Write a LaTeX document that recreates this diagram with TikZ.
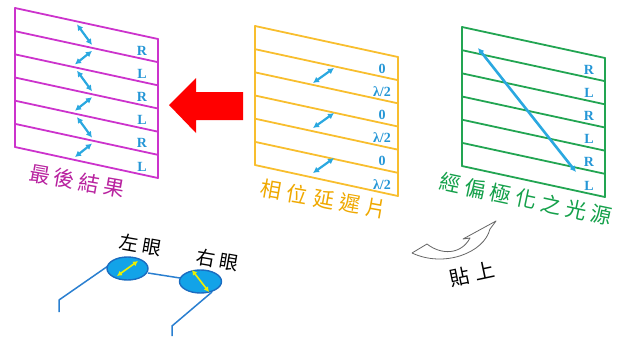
\documentclass[tikz,border=0pt]{standalone}
\usepackage{fontspec}
\newfontfamily\cjk{Noto Sans CJK TC}[LetterSpace=20]
\newfontfamily\labfont{Liberation Serif}
\usetikzlibrary{arrows.meta}

\definecolor{plum}{HTML}{CC33CC}
\definecolor{plumtext}{HTML}{B8229F}
\definecolor{amber}{HTML}{F8BE2E}
\definecolor{ambertext}{HTML}{EFA800}
\definecolor{leaf}{HTML}{22A552}
\definecolor{leaftext}{HTML}{14A04A}
\definecolor{skyb}{HTML}{2AA8E0}
\definecolor{labblue}{HTML}{2496D6}
\definecolor{lens}{HTML}{12A3E8}
\definecolor{lensrim}{HTML}{1B6CC0}
\definecolor{frame}{HTML}{2A7FD0}
\definecolor{yarrow}{HTML}{EEF000}

\tikzset{
  plate/.pic={
    \foreach \i in {0,...,6}
      \draw[pic actions] (0,{\i*23.17}) -- (143,{\i*23.17+31});
    \draw[pic actions] (0,0) -- (0,139) (143,31) -- (143,170);
  },
  platestroke/.style={line width=1.8pt, line cap=round},
  twohead/.style={draw=skyb, line width=2.2pt,
    {Latex[length=6pt,width=6.5pt]}-{Latex[length=6pt,width=6.5pt]}},
  yellowhead/.style={draw=yarrow, line width=1.6pt,
    {Latex[length=5pt,width=5.5pt]}-{Latex[length=5pt,width=5.5pt]}},
  lab/.style={text=labblue, font=\labfont\bfseries\fontsize{14}{14}\selectfont, inner sep=0pt},
  caption/.style={inner sep=0pt, font=\cjk\fontsize{21}{21}\selectfont},
  eyelabel/.style={inner sep=0pt, font=\cjk\fontsize{19}{19}\selectfont\addfontfeature{LetterSpace=22}, text=black},
  lensshape/.style={fill=lens, draw=lensrim, line width=1.4pt},
  temple/.style={draw=frame, line width=1.5pt, line join=round},
}

\begin{document}
\begin{tikzpicture}[x=1pt,y=-1pt]
\useasboundingbox (0,0) rectangle (619,338);

% --- resulting circular polarisation plate (magenta) ---
\pic[draw=plum, platestroke] at (15,8) {plate};
\foreach \t [count=\k from 0] in {R,L,R,L,R,L}
  \node[lab] (res\k) at (142,{50.6+23.17*\k}) {\t};
\foreach \k in {0,2,4} {
  \coordinate (za\k) at (77,{24.4+23.17*\k});
  \coordinate (zb\k) at (92,{44.9+23.17*\k});
  \draw[twohead] (za\k) -- (zb\k);
}
\foreach \k in {1,3,5} {
  \coordinate (za\k) at (92,{27.7+23.17*\k});
  \coordinate (zb\k) at (75,{41.2+23.17*\k});
  \draw[twohead] (za\k) -- (zb\k);
}
\node[caption, text=plumtext, rotate=-10] (result) at (77,181) {最後結果};

% --- big red arrow ---
\draw[fill=red, draw=none]
  (169,105) -- (196,78) -- (196,92) -- (243,92) -- (243,120)
  -- (196,120) -- (196,133) -- cycle;

% --- phase retarder (amber) ---
\pic[draw=amber, platestroke] at (255,26) {plate};
\foreach \t [count=\k from 0] in {0,λ/2,0,λ/2,0,λ/2}
  \node[lab] (ret\k) at (382,{68.6+23.17*\k}) {\t};
\foreach \y [count=\k] in {83,128,173} {
  \coordinate (ra\k) at (313,\y);
  \coordinate (rb\k) at (334,\y-15);
  \draw[twohead] (ra\k) -- (rb\k);
}
\node[caption, text=ambertext, rotate=-10, font=\cjk\fontsize{21}{21}\selectfont\addfontfeature{LetterSpace=27}]
  (retarder) at (324,199) {相位延遲片};

% --- linearly polarised source (green) ---
\pic[draw=leaf, platestroke] at (462,27) {plate};
\foreach \t [count=\k from 0] in {R,L,R,L,R,L}
  \node[lab] (src\k) at (589,{69.6+23.17*\k}) {\t};
\coordinate (da) at (478,48);
\coordinate (db) at (576,172);
\draw[twohead, line width=2.6pt] (da) -- (db);
\node[caption, text=leaftext, rotate=-12, font=\cjk\fontsize{21}{21}\selectfont\addfontfeature{LetterSpace=22}]
  (source) at (526,199) {經偏極化之光源};

% --- curved "attach" arrow ---
\draw[draw=black!60, fill=white, line width=0.8pt, line join=round]
  (412,253) -- (427,244)
  .. controls (441,255) and (461,255) .. (470,238)
  -- (463,239) -- (496,221) -- (490,229)
  .. controls (484,253) and (444,268) .. (412,253) -- cycle;
\node[eyelabel, rotate=12, font=\cjk\fontsize{20}{20}\selectfont\addfontfeature{LetterSpace=30}]
  (attach) at (472,274) {貼上};

% --- glasses ---
\coordinate (lc) at (127.5,268.5);
\coordinate (rc) at (200.5,281.5);
\coordinate (bl) at (148,273);
\coordinate (br) at (180,278);
\coordinate (tl0) at (108,266);
\coordinate (tl1) at (59,300);
\coordinate (tl2) at (59,312);
\coordinate (tr0) at (212,292);
\coordinate (tr1) at (172,326);
\coordinate (tr2) at (172,336);
\draw[temple] (tl0) -- (tl1) -- (tl2);
\draw[temple] (tr0) -- (tr1) -- (tr2);
\draw[temple] (bl) -- (br);
\draw[lensshape] (lc) ellipse [x radius=20.5pt, y radius=11.5pt];
\draw[lensshape] (rc) ellipse [x radius=21pt, y radius=11.5pt];
\coordinate (ya1) at (117,276);
\coordinate (yb1) at (138,261);
\coordinate (ya2) at (192,270);
\coordinate (yb2) at (209,292);
\draw[yellowhead] (ya1) -- (yb1);
\draw[yellowhead] (ya2) -- (yb2);
\node[eyelabel, rotate=-10] (lefteye) at (141,245) {左眼};
\node[eyelabel, rotate=-10] (righteye) at (218,260) {右眼};
\end{tikzpicture}
\end{document}
